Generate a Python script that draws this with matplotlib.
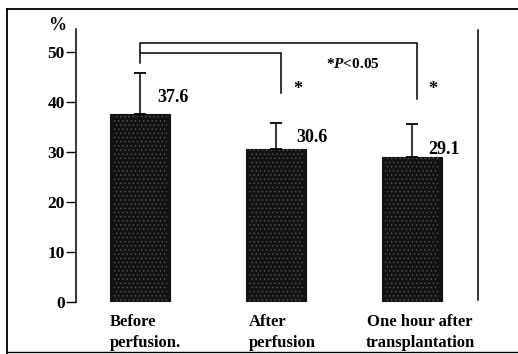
import matplotlib
matplotlib.use("Agg")
import matplotlib.pyplot as plt
from matplotlib.lines import Line2D

# data
groups = ["Before\nperfusion.", "After\nperfusion", "One hour after\ntransplantation"]
means = [37.6, 30.6, 29.1]
errors = [8.2, 5.2, 6.6]
yticks = [0, 10, 20, 30, 40, 50]

plt.rcParams["font.family"] = ["Liberation Serif", "DejaVu Serif"]
plt.rcParams["mathtext.fontset"] = "custom"
plt.rcParams["mathtext.rm"] = "Liberation Serif:bold"
plt.rcParams["mathtext.it"] = "Liberation Serif:italic:bold"
plt.rcParams["hatch.linewidth"] = 0.5

fig = plt.figure(figsize=(5.18, 3.54), dpi=100)
ax = fig.add_axes([76/518, 1 - 302/354, (478 - 76)/518, (302 - 29)/354])

x = list(range(len(means)))
ax.bar(x, means, width=0.44, color="#121212", edgecolor="#121212",
       linewidth=0.8, zorder=2)
# grainy texture on the bars
ax.bar(x, means, width=0.40, color="none", edgecolor="#5a5a5a", hatch="....",
       linewidth=0, zorder=2)
ax.errorbar(x, means, yerr=[[0]*len(errors), errors], fmt="none", ecolor="black",
            elinewidth=1.1, capsize=4, capthick=1.3, zorder=3)

# value labels beside each bar
label_xy = [(0.125, 41.0), (0.147, 33.0), (0.118, 30.4)]
for xi, m, (dx, ly) in zip(x, means, label_xy):
    ax.text(xi + dx, ly, f"{m}", fontsize=13, fontweight="bold",
            ha="left", va="center")

ax.set_xlim(-0.47, 2.485)
ax.set_ylim(0, 54.6)
ax.set_yticks(yticks)
ax.set_yticklabels([str(t) for t in yticks], fontsize=12.5, fontweight="bold")
ax.tick_params(axis="y", direction="out", length=7, width=1, pad=1)
ax.set_xticks([])
for side in ["top", "bottom"]:
    ax.spines[side].set_visible(False)
ax.spines["left"].set_linewidth(1.1)
ax.spines["right"].set_linewidth(1.1)
ax.spines["right"].set_bounds(0.4, 54.4)

ax.text(-0.61, 55.2, "%", fontsize=13, fontweight="bold", ha="center", va="center",
        clip_on=False)

# significance brackets
lw = 1.1
ax.plot([0, 0, 2.04, 2.04], [47.8, 51.8, 51.8, 40.7], color="black", lw=lw,
        solid_joinstyle="miter", clip_on=False)
ax.plot([0, 1.04, 1.04], [49.8, 49.8, 41.8], color="black", lw=lw,
        solid_joinstyle="miter")
ax.text(1.16, 42.6, "*", fontsize=13, fontweight="bold", ha="center", va="center")
ax.text(2.15, 42.6, "*", fontsize=13, fontweight="bold", ha="center", va="center")
ax.text(1.37, 47.6, "*$P$<0.05", fontsize=11, fontweight="bold",
        ha="left", va="center")

# category labels under the bars
label_pos = [(110, "left"), (249, "left"), (420, "center")]
for lab, (px, ha) in zip(groups, label_pos):
    fig.text(px/518, 1 - 314/354, lab, fontsize=12, fontweight="bold",
             ha=ha, va="top", linespacing=1.4)

# outer frame
fig.add_artist(Line2D([7/518, 7/518], [0, 1 - 9/354], color="black", lw=1.3,
                      transform=fig.transFigure))
fig.add_artist(Line2D([7/518, 1], [1 - 9/354, 1 - 9/354], color="black", lw=1.3,
                      transform=fig.transFigure))
fig.add_artist(Line2D([7/518, 1], [1 - 352/354, 1 - 352/354], color="black", lw=1.0,
                      transform=fig.transFigure))

fig.savefig("out.png", dpi=100)
